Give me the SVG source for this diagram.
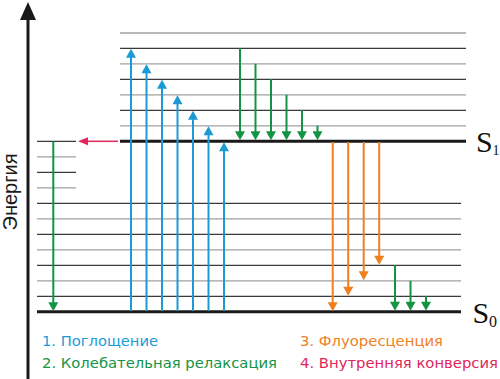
<svg xmlns="http://www.w3.org/2000/svg" width="500" height="379" viewBox="0 0 500 379">
<style>
.dk{stroke:#3a3a3a;stroke-width:1.3;fill:none}
.gr{stroke:#a0a0a0;stroke-width:1.3;fill:none}
.thick{stroke:#1a1a1a;stroke-width:3;fill:none}
.blue{stroke:#1b9ad6;stroke-width:2;fill:none;marker-end:url(#hb)}
.green{stroke:#139445;stroke-width:2;fill:none;marker-end:url(#hg)}
.orange{stroke:#f07f1e;stroke-width:2;fill:none;marker-end:url(#ho)}
.red{stroke:#e0265a;stroke-width:1.5;fill:none;marker-end:url(#hr)}
.leg{font-family:"DejaVu Sans","Verdana",sans-serif;font-size:14px}
.st{font-family:"Liberation Serif","Times New Roman",serif;fill:#111}
</style>
<defs>
<marker id="hb" markerUnits="userSpaceOnUse" markerWidth="10" markerHeight="10" viewBox="0 0 8 9" refX="2" refY="4.5" orient="auto"><path d="M0,0 L8,4.5 L0,9 z" fill="#1b9ad6"/></marker>
<marker id="hg" markerUnits="userSpaceOnUse" markerWidth="10" markerHeight="10" viewBox="0 0 8 9" refX="2" refY="4.5" orient="auto"><path d="M0,0 L8,4.5 L0,9 z" fill="#139445"/></marker>
<marker id="ho" markerUnits="userSpaceOnUse" markerWidth="10" markerHeight="10" viewBox="0 0 8 9" refX="2" refY="4.5" orient="auto"><path d="M0,0 L8,4.5 L0,9 z" fill="#f07f1e"/></marker>
<marker id="hr" markerUnits="userSpaceOnUse" markerWidth="10" markerHeight="9" viewBox="0 0 10 8" refX="2" refY="4" orient="auto"><path d="M0,0 L10,4 L0,8 z" fill="#e0265a"/></marker>
</defs>
<g id="axis">
<line x1="28" y1="18" x2="28" y2="379" stroke="#1a1a1a" stroke-width="3"/>
<polygon points="28,2 20,20 36,20" fill="#1a1a1a"/>
<text transform="translate(17,192) rotate(-90)" text-anchor="middle" font-family="Liberation Sans, Arial, sans-serif" font-size="20" fill="#1a1a1a">Энергия</text>
</g>
<g id="S1-levels">
<line class="gr" x1="120" y1="33" x2="466" y2="33"/>
<line class="dk" x1="120" y1="48.3" x2="466" y2="48.3"/>
<line class="gr" x1="120" y1="63.8" x2="466" y2="63.8"/>
<line class="dk" x1="120" y1="79.3" x2="466" y2="79.3"/>
<line class="gr" x1="120" y1="94.8" x2="466" y2="94.8"/>
<line class="dk" x1="120" y1="110.3" x2="466" y2="110.3"/>
<line class="gr" x1="120" y1="125.8" x2="466" y2="125.8"/>
<line class="thick" x1="120" y1="141.3" x2="466" y2="141.3"/>
<text class="st" x="476" y="152" font-size="30">S<tspan x="492.5" y="155" font-size="14">1</tspan></text>
</g>
<g id="T-levels">
<line class="dk" x1="37" y1="141.3" x2="76" y2="141.3"/>
<line class="gr" x1="37" y1="156.8" x2="76" y2="156.8"/>
<line class="dk" x1="37" y1="172.3" x2="76" y2="172.3"/>
<line class="gr" x1="37" y1="187.8" x2="76" y2="187.8"/>
</g>
<g id="S0-levels">
<line class="dk" x1="37" y1="203.3" x2="461" y2="203.3"/>
<line class="gr" x1="37" y1="218.8" x2="461" y2="218.8"/>
<line class="dk" x1="37" y1="234.3" x2="461" y2="234.3"/>
<line class="gr" x1="37" y1="249.8" x2="461" y2="249.8"/>
<line class="dk" x1="37" y1="265.3" x2="461" y2="265.3"/>
<line class="gr" x1="37" y1="280.8" x2="461" y2="280.8"/>
<line class="dk" x1="37" y1="296.3" x2="461" y2="296.3"/>
<line class="thick" x1="37" y1="311.8" x2="461" y2="311.8"/>
<text class="st" x="472.5" y="322.5" font-size="30">S<tspan x="489" y="327" font-size="16">0</tspan></text>
</g>
<g id="connectors">
<line class="blue" x1="131" y1="311" x2="131" y2="55.5"/>
<line class="blue" x1="146.5" y1="311" x2="146.5" y2="71"/>
<line class="blue" x1="162" y1="311" x2="162" y2="86.5"/>
<line class="blue" x1="177.5" y1="311" x2="177.5" y2="102"/>
<line class="blue" x1="193" y1="311" x2="193" y2="117.5"/>
<line class="blue" x1="208.5" y1="311" x2="208.5" y2="133"/>
<line class="blue" x1="224" y1="311" x2="224" y2="149"/>
<line class="green" x1="240" y1="48.3" x2="240" y2="133.5"/>
<line class="green" x1="255.5" y1="63.8" x2="255.5" y2="133.5"/>
<line class="green" x1="271" y1="79.3" x2="271" y2="133.5"/>
<line class="green" x1="286.5" y1="94.8" x2="286.5" y2="133.5"/>
<line class="green" x1="302" y1="110.3" x2="302" y2="133.5"/>
<line class="green" x1="317.5" y1="125.8" x2="317.5" y2="133.5"/>
<line class="orange" x1="332.7" y1="142" x2="332.7" y2="304.5"/>
<line class="orange" x1="348.2" y1="142" x2="348.2" y2="289"/>
<line class="orange" x1="363.7" y1="142" x2="363.7" y2="273.5"/>
<line class="orange" x1="379.2" y1="142" x2="379.2" y2="258"/>
<line class="green" x1="395" y1="265.3" x2="395" y2="304"/>
<line class="green" x1="410.5" y1="280.8" x2="410.5" y2="304"/>
<line class="green" x1="426" y1="296.3" x2="426" y2="304"/>
<line class="green" x1="53.3" y1="141.3" x2="53.3" y2="304.5"/>
<line class="red" x1="118" y1="141.3" x2="86" y2="141.3"/>
</g>
<g id="legend">
<text class="leg" x="42" y="346" fill="#1b9ad6" textLength="116" lengthAdjust="spacingAndGlyphs">1. Поглощение</text>
<text class="leg" x="42" y="368" fill="#139445" textLength="235" lengthAdjust="spacingAndGlyphs">2. Колебательная релаксация</text>
<text class="leg" x="300" y="346" fill="#f07f1e" textLength="143" lengthAdjust="spacingAndGlyphs">3. Флуоресценция</text>
<text class="leg" x="300" y="368" fill="#e0265a" textLength="198" lengthAdjust="spacingAndGlyphs">4. Внутренняя конверсия</text>
</g>
</svg>
